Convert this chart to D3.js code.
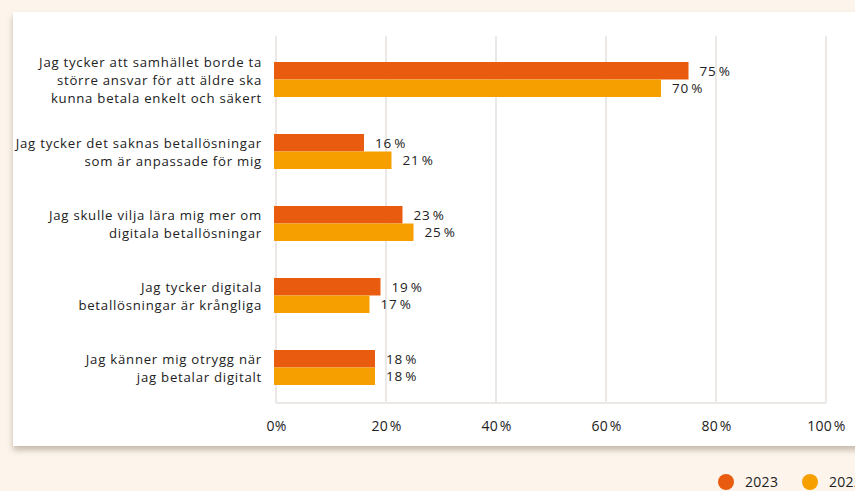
<!DOCTYPE html>
<html>
<head>
<meta charset="utf-8">
<script src="https://cdn.jsdelivr.net/npm/d3@7"></script>
<style>
  html, body { margin: 0; padding: 0; background: #fdf5ec; overflow: hidden; }
  svg { display: block; }
  text { font-family: "Open Sans", "Noto Sans", sans-serif; fill: #222; }
</style>
</head>
<body>
<svg id="chart" width="855" height="491"></svg>
<script>
// Survey statements and shares (%) per year
const categories = [
  ["Jag tycker att samhället borde ta", "större ansvar för att äldre ska", "kunna betala enkelt och säkert"],
  ["Jag tycker det saknas betallösningar", "som är anpassade för mig"],
  ["Jag skulle vilja lära mig mer om", "digitala betallösningar"],
  ["Jag tycker digitala", "betallösningar är krångliga"],
  ["Jag känner mig otrygg när", "jag betalar digitalt"]
];
const years = ["2023", "2022"];
const values2023 = [75, 16, 23, 19, 18];
const values2022 = [70, 21, 25, 17, 18];
const tickValues = [0, 20, 40, 60, 80, 100];
const colors = ["#e95c0f", "#f59f00"];

const svg = d3.select("#chart");

// Drop shadow for the white card
const defs = svg.append("defs");
const f = defs.append("filter").attr("id", "shadow")
  .attr("x", "-5%").attr("y", "-5%").attr("width", "110%").attr("height", "115%");
f.append("feDropShadow").attr("dx", 0).attr("dy", 4).attr("stdDeviation", 3)
  .attr("flood-color", "#7a6a58").attr("flood-opacity", 0.45);

svg.append("rect")
  .attr("x", 13).attr("y", 12).attr("width", 880).attr("height", 434)
  .attr("fill", "#fff").attr("filter", "url(#shadow)");

const x = d3.scaleLinear().domain([0, 100]).range([276, 826]);
const y = d3.scaleBand().domain(d3.range(categories.length))
  .range([43.5, 403.5]).paddingInner(0.514).paddingOuter(0.257);
const sub = d3.scaleBand().domain(years).range([0, y.bandwidth()]);

const gridTop = 36, gridBottom = 403;

// Vertical gridlines and bottom rule
const grid = svg.append("g");
grid.selectAll("line.v").data(tickValues).join("line")
  .attr("class", "v")
  .attr("x1", d => x(d)).attr("x2", d => x(d))
  .attr("y1", gridTop).attr("y2", gridBottom)
  .attr("stroke", "#ece8e5").attr("stroke-width", 2);
grid.append("line")
  .attr("x1", x(0)).attr("x2", x(100))
  .attr("y1", gridBottom).attr("y2", gridBottom)
  .attr("stroke", "#ece8e5").attr("stroke-width", 2);

// X axis labels
const xAxis = d3.axisBottom(x).tickValues(tickValues)
  .tickFormat(d => d === 0 ? "0%" : d + "\u200a%").tickSize(0).tickPadding(0);
const ax = svg.append("g").attr("transform", `translate(0, ${gridBottom + 18})`).call(xAxis);
ax.select(".domain").remove();
ax.selectAll("text").style("font-size", "14px").style("letter-spacing", "0.3px")
  .attr("fill", "#222").style("font-family", "\"Open Sans\", sans-serif");

// Bars
const series = [values2023, values2022];
const groups = svg.append("g").selectAll("g").data(categories).join("g")
  .attr("transform", (d, i) => `translate(0, ${y(i)})`);

years.forEach((yr, s) => {
  groups.append("rect")
    .attr("x", x(0) - 2)
    .attr("y", sub(yr))
    .attr("width", (d, i) => x(series[s][i]) - x(0) + 2)
    .attr("height", sub.bandwidth())
    .attr("fill", colors[s]);
  groups.append("text")
    .attr("x", (d, i) => x(series[s][i]) + 11)
    .attr("y", sub(yr) + sub.bandwidth() / 2)
    .attr("dy", "0.36em")
    .style("font-size", "13.5px")
    .style("letter-spacing", "0.8px")
    .text((d, i) => series[s][i] + "\u200a%");
});

// Category labels
groups.each(function(lines) {
  const g = d3.select(this);
  const lh = 18;
  const c = y.bandwidth() / 2 + 1;
  lines.forEach((ln, k) => {
    g.append("text")
      .attr("x", 262)
      .attr("y", c + (k - (lines.length - 1) / 2) * lh)
      .attr("dy", "0.36em")
      .attr("text-anchor", "end")
      .style("font-size", "13.2px")
      .style("letter-spacing", "0.75px")
      .text(ln);
  });
});

// Legend
const legend = svg.append("g");
const lx = [726, 810];
years.forEach((yr, s) => {
  legend.append("circle").attr("cx", lx[s]).attr("cy", 482).attr("r", 8).attr("fill", colors[s]);
  legend.append("text").attr("x", lx[s] + 19).attr("y", 482).attr("dy", "0.36em")
    .style("font-size", "14px").style("letter-spacing", "0.3px").text(yr);
});
</script>
</body>
</html>
